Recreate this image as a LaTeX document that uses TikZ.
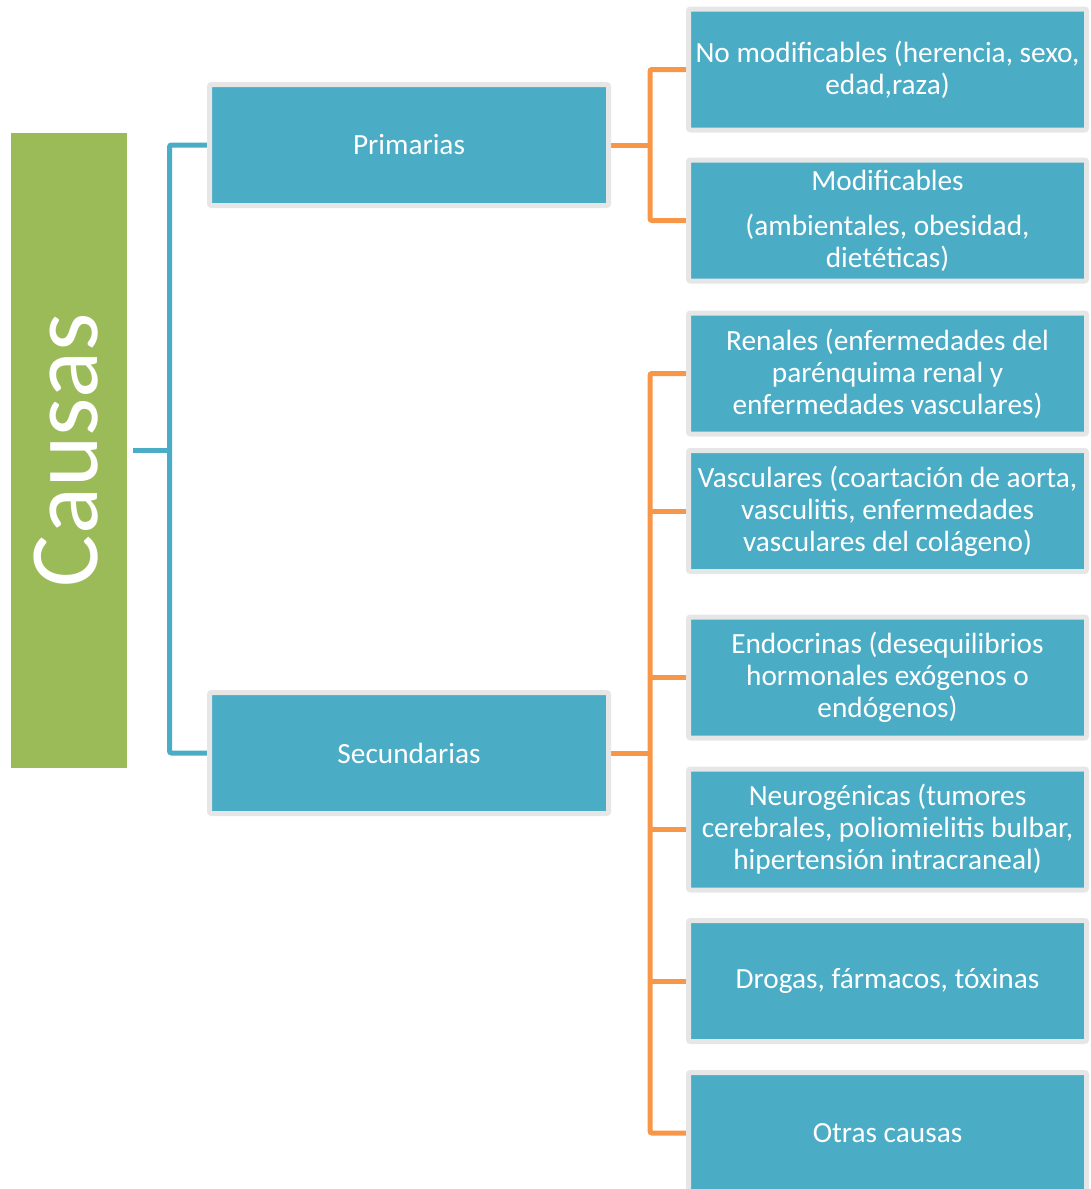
\documentclass[tikz,border=0pt]{standalone}
\usepackage{fontspec}
\setmainfont{Carlito}
\usetikzlibrary{backgrounds}
\definecolor{boxblue}{HTML}{4BACC6}
\definecolor{boxgreen}{HTML}{9BBB59}
\definecolor{conorange}{HTML}{F79646}
\definecolor{boxgray}{HTML}{E6E6E6}
\tikzset{
  bluebox/.style={draw=boxgray, line width=5pt, fill=boxblue, rounded corners=2pt,
    text=white, align=center, inner sep=0pt,
    font=\fontsize{29.3}{32}\selectfont},
  leftbox/.style={bluebox, minimum width=399pt, minimum height=121pt},
  rightbox/.style={bluebox, minimum width=398pt, minimum height=121pt},
  bluecon/.style={draw=boxblue, line width=5pt, rounded corners=2pt},
  orangecon/.style={draw=conorange, line width=5pt, rounded corners=2pt},
}
\begin{document}
\begin{tikzpicture}[x=1pt, y=-1pt]
\useasboundingbox (0,0) rectangle (1090,1189);
\clip (0,0) rectangle (1090,1189);

% trunk coordinates
\coordinate (tb) at (169.5,450);
\coordinate (tp) at (650,145);
\coordinate (ts) at (650,753);

\node[fill=boxgreen, minimum width=116pt, minimum height=635pt, inner sep=0pt] (causas) at (69,450) {};
\node[text=white, rotate=90, inner sep=0pt, font=\fontsize{98}{100}\selectfont] (causastxt) at (66,450) {Causas};

\node[leftbox] (prim) at (409,145) {Primarias};
\node[leftbox] (sec) at (409,753) {Secundarias};

\node[rightbox] (nomod) at (887.5,69.5) {No modificables (herencia, sexo,\\edad,raza)};
\node[rightbox] (mod) at (887.5,220.5) {Modificables\\[13pt](ambientales, obesidad,\\dietéticas)};
\node[rightbox] (ren) at (887.5,373.5) {Renales (enfermedades del\\parénquima renal y\\enfermedades vasculares)};
\node[rightbox] (vasc) at (887.5,511) {Vasculares (coartación de aorta,\\vasculitis, enfermedades\\vasculares del colágeno)};
\node[rightbox] (endo) at (887.5,677.5) {Endocrinas (desequilibrios\\hormonales exógenos o\\endógenos)};
\node[rightbox] (neuro) at (887.5,829.5) {Neurogénicas (tumores\\cerebrales, poliomielitis bulbar,\\hipertensión intracraneal)};
\node[rightbox] (drog) at (887.5,981) {Drogas, fármacos, tóxinas};
\node[rightbox] (otras) at (887.5,1133) {Otras causas};

\begin{scope}[on background layer]
  % blue connectors
  \draw[bluecon] ([xshift=6pt]causas.east) -- (tb);
  \draw[bluecon] (prim.west) -| (tb) |- (sec.west);
  % orange connectors: primarias
  \draw[orangecon] (prim.east) -- (tp);
  \draw[orangecon] (nomod.west) -| (tp) |- (mod.west);
  % orange connectors: secundarias
  \draw[orangecon] (sec.east) -- (ts);
  \draw[orangecon] (ren.west) -| (ts) |- (otras.west);
  \draw[orangecon] (vasc.west) -- (vasc.west -| ts);
  \draw[orangecon] (endo.west) -- (endo.west -| ts);
  \draw[orangecon] (neuro.west) -- (neuro.west -| ts);
  \draw[orangecon] (drog.west) -- (drog.west -| ts);
\end{scope}
\end{tikzpicture}
\end{document}
